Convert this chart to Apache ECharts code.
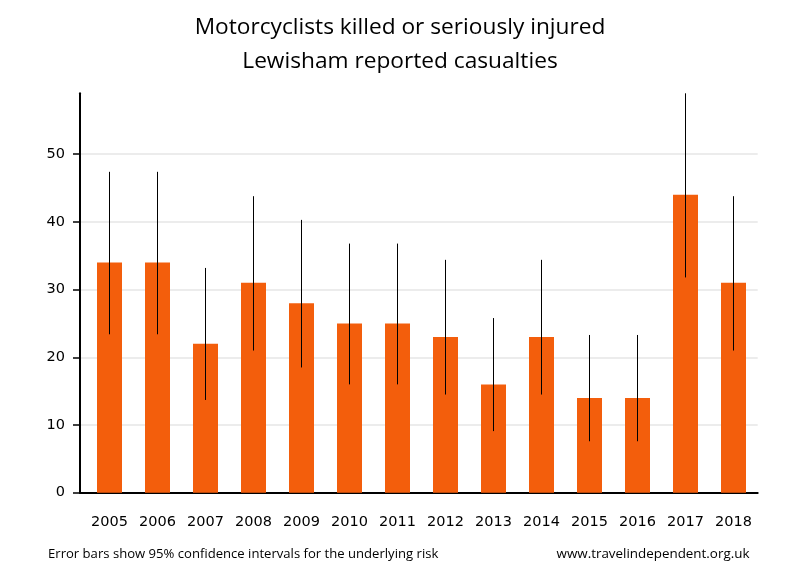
<!DOCTYPE html>
<html>
<head>
<meta charset="utf-8">
<script src="https://cdn.jsdelivr.net/npm/echarts@6/dist/echarts.min.js"></script>
<style>html,body{margin:0;padding:0;background:#fff}#main{width:800px;height:580px}</style>
</head>
<body>
<div id="main"></div>
<script>
var years = ['2005','2006','2007','2008','2009','2010','2011','2012','2013','2014','2015','2016','2017','2018'];
var casualties = [34, 34, 22, 31, 28, 25, 25, 23, 16, 23, 14, 14, 44, 31];
var ciLow  = [23.4, 23.4, 13.7, 21.0, 18.5, 16.0, 16.0, 14.5, 9.1, 14.5, 7.6, 7.6, 31.8, 21.0];
var ciHigh = [47.4, 47.4, 33.2, 43.8, 40.3, 36.8, 36.8, 34.4, 25.8, 34.4, 23.3, 23.3, 59.0, 43.8];
var yTicks = [0, 10, 20, 30, 40, 50];

var chart = echarts.init(document.getElementById('main'), null, {renderer: 'canvas'});
var TOP = 93.3, BOTTOM = 87.3, YMAX = 59;
var errData = years.map(function (y, i) { return [i, ciLow[i], ciHigh[i]]; });

chart.setOption({
  animation: false,
  backgroundColor: '#ffffff',
  title: [
    {text: 'Motorcyclists killed or seriously injured', left: 'center', top: 11,
     textStyle: {fontFamily: 'Open Sans', fontWeight: 'normal', fontSize: 22.7, color: '#000'}},
    {text: 'Lewisham reported casualties', left: 'center', top: 45,
     textStyle: {fontFamily: 'Open Sans', fontWeight: 'normal', fontSize: 22.7, color: '#000'}},
    {text: 'Error bars show 95% confidence intervals for the underlying risk', left: 43, top: 543,
     textStyle: {fontFamily: 'Open Sans', fontWeight: 'normal', fontSize: 13.1, color: '#000'}},
    {text: 'www.travelindependent.org.uk', left: 551.5, top: 543,
     textStyle: {fontFamily: 'Open Sans', fontWeight: 'normal', fontSize: 13.4, color: '#000'}}
  ],
  grid: [
    {left: 80, right: 42.3, top: TOP, bottom: BOTTOM, containLabel: false},
    {left: 85.5, right: 42.5, top: TOP, bottom: BOTTOM, containLabel: false}
  ],
  xAxis: [
    {gridIndex: 0, type: 'value', min: 0, max: 1, show: true,
     axisLine: {show: true, onZero: false, lineStyle: {color: '#000', width: 2}},
     axisTick: {show: false}, axisLabel: {show: false}, splitLine: {show: false}},
    {gridIndex: 1, type: 'category', data: years,
     axisLine: {show: false}, axisTick: {show: false},
     axisLabel: {margin: 22.5, fontFamily: 'DejaVu Sans', fontSize: 14.5, color: '#000'}}
  ],
  yAxis: [
    {gridIndex: 0, type: 'value', min: 0, max: YMAX, interval: 10,
     axisLine: {show: true, lineStyle: {color: '#000', width: 2}},
     axisTick: {show: true, length: 7, inside: false, lineStyle: {color: '#000', width: 1.5}},
     axisLabel: {margin: 15, fontFamily: 'DejaVu Sans', fontSize: 14.5, color: '#000',
                 showMaxLabel: false},
     splitLine: {show: true, showMaxLine: false, lineStyle: {color: '#e6e6e6', width: 1.5}}},
    {gridIndex: 1, type: 'value', min: 0, max: YMAX, show: false, splitLine: {show: false}}
  ],
  series: [
    {type: 'bar', xAxisIndex: 1, yAxisIndex: 1, data: casualties, barWidth: 25,
     itemStyle: {color: '#f35e0c'}, z: 2},
    {type: 'custom', xAxisIndex: 1, yAxisIndex: 1, data: errData, z: 3,
     renderItem: function (params, api) {
       var lo = api.coord([api.value(0), api.value(1)]);
       var hi = api.coord([api.value(0), api.value(2)]);
       return {type: 'line', shape: {x1: lo[0], y1: lo[1], x2: hi[0], y2: hi[1]},
               style: {stroke: '#000', lineWidth: 1}};
     }}
  ]
});
</script>
</body>
</html>
